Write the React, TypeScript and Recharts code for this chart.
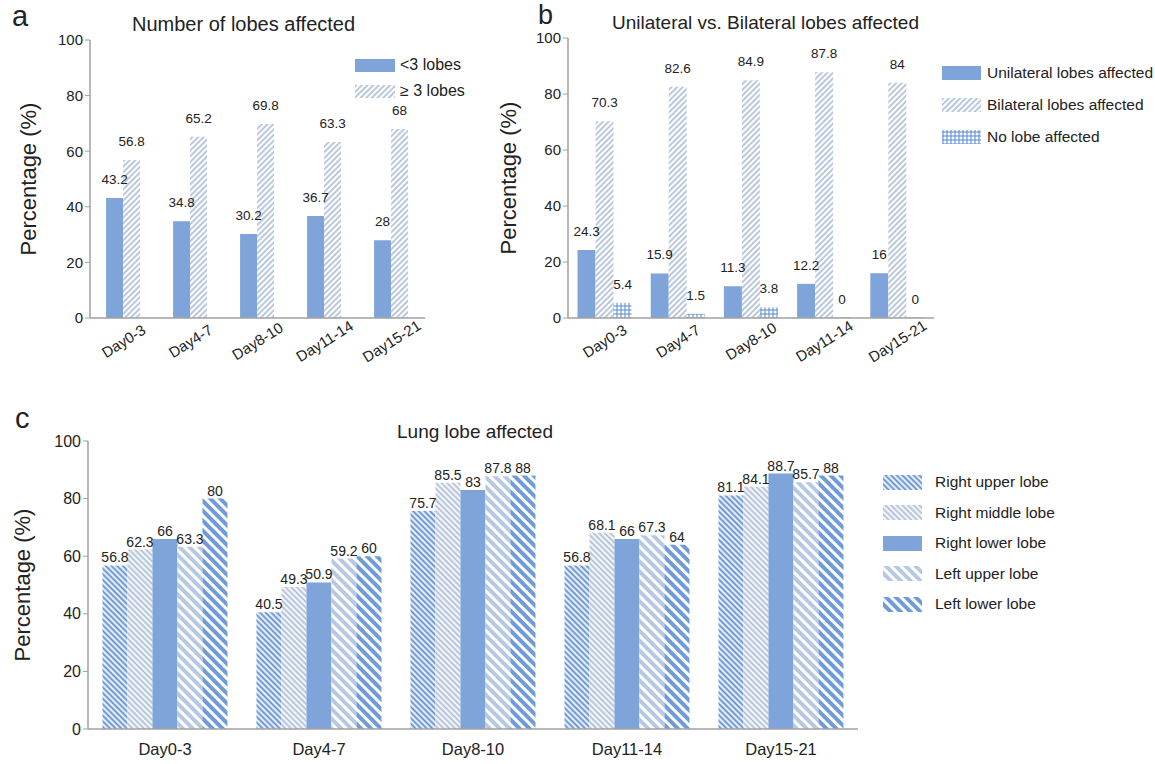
import { BarChart, Bar, XAxis, YAxis, LabelList } from 'recharts';

const days = ['Day0-3', 'Day4-7', 'Day8-10', 'Day11-14', 'Day15-21'];

// panel a
const lessThan3 = [43.2, 34.8, 30.2, 36.7, 28];
const atLeast3 = [56.8, 65.2, 69.8, 63.3, 68];

// panel b
const unilateral = [24.3, 15.9, 11.3, 12.2, 16];
const bilateral = [70.3, 82.6, 84.9, 87.8, 84];
const noLobe = [5.4, 1.5, 3.8, 0, 0];

// panel c
const rightUpper = [56.8, 40.5, 75.7, 56.8, 81.1];
const rightMiddle = [62.3, 49.3, 85.5, 68.1, 84.1];
const rightLower = [66, 50.9, 83, 66, 88.7];
const leftUpper = [63.3, 59.2, 87.8, 67.3, 85.7];
const leftLower = [80, 60, 88, 64, 88];

const yTicks = [0, 20, 40, 60, 80, 100];

const dataA = days.map((d, i) => ({ day: d, lt3: lessThan3[i], ge3: atLeast3[i] }));
const dataB = days.map((d, i) => ({ day: d, uni: unilateral[i], bi: bilateral[i], none: noLobe[i] }));
const dataC = days.map((d, i) => ({
  day: d,
  rul: rightUpper[i],
  rml: rightMiddle[i],
  rll: rightLower[i],
  lul: leftUpper[i],
  lll: leftLower[i],
}));

const FONT = 'Arial, "Liberation Sans", Helvetica, sans-serif';
const SOLID = '#7ea4da';
const AXIS = '#a0a0a0';
const TEXT = '#222';

const RotTick = (props: any) => {
  const { x, y, payload } = props;
  const cy = y + 15;
  return (
    <text
      x={x}
      y={cy}
      transform={`rotate(-32, ${x}, ${cy})`}
      textAnchor="middle"
      dominantBaseline="central"
      fontSize={15}
      fill={TEXT}
      fontFamily={FONT}
    >
      {payload.value}
    </text>
  );
};

function Patterns() {
  return (
    <defs>
      <pattern id="hatchLight" width="4" height="4" patternUnits="userSpaceOnUse" patternTransform="rotate(45)">
        <rect width="4" height="4" fill="#fff" />
        <line x1="1" y1="0" x2="1" y2="4" stroke="#a9bad6" strokeWidth="1.6" />
      </pattern>
      <pattern id="gridBlue" width="4" height="4" patternUnits="userSpaceOnUse">
        <rect width="4" height="4" fill="#fff" />
        <line x1="1" y1="0" x2="1" y2="4" stroke="#5f8fd4" strokeWidth="1.1" />
        <line x1="0" y1="2" x2="4" y2="2" stroke="#5f8fd4" strokeWidth="1.1" />
      </pattern>
      <pattern id="rulPat" width="4" height="4" patternUnits="userSpaceOnUse" patternTransform="rotate(-45)">
        <rect width="4" height="4" fill="#fff" />
        <line x1="1.5" y1="0" x2="1.5" y2="4" stroke="#5b8bd2" strokeWidth="2" />
      </pattern>
      <pattern id="rmlPat" width="4" height="4" patternUnits="userSpaceOnUse" patternTransform="rotate(-45)">
        <rect width="4" height="4" fill="#fff" />
        <line x1="1.5" y1="0" x2="1.5" y2="4" stroke="#adbdd6" strokeWidth="2" />
      </pattern>
      <pattern id="lulPat" width="7" height="7" patternUnits="userSpaceOnUse" patternTransform="rotate(-45)">
        <rect width="7" height="7" fill="#fff" />
        <rect x="0" y="0" width="4" height="7" fill="#b7c8e2" />
      </pattern>
      <pattern id="lllPat" width="7" height="7" patternUnits="userSpaceOnUse" patternTransform="rotate(-45)">
        <rect width="7" height="7" fill="#fff" />
        <rect x="0" y="0" width="4" height="7" fill="#6f9bd9" />
      </pattern>
    </defs>
  );
}

function Swatch({ fill, w = 38, h = 14 }: { fill: string; w?: number; h?: number }) {
  return (
    <svg width={w} height={h} style={{ display: 'block' }}>
      <rect width={w} height={h} fill={fill} />
    </svg>
  );
}

function LegendBox({
  items,
  left,
  top,
  gap,
  textGap,
  fontSize,
  w,
  h,
}: {
  items: { label: string; fill: string }[];
  left: number;
  top: number;
  gap: number;
  textGap: number;
  fontSize: number;
  w: number;
  h: number;
}) {
  return (
    <div style={{ position: 'absolute', left, top, fontFamily: FONT, fontSize, color: TEXT }}>
      {items.map((it) => (
        <div key={it.label} style={{ display: 'flex', alignItems: 'center', height: gap }}>
          <Swatch fill={it.fill} w={w} h={h} />
          <span style={{ marginLeft: textGap, whiteSpace: 'nowrap' }}>{it.label}</span>
        </div>
      ))}
    </div>
  );
}

const abs = (left: number, top: number, extra: any = {}) => ({
  position: 'absolute' as const,
  left,
  top,
  fontFamily: FONT,
  color: TEXT,
  whiteSpace: 'nowrap' as const,
  lineHeight: 1.15,
  ...extra,
});

const labelStyle = { fontSize: 13.5, fill: TEXT, fontFamily: FONT };
const labelStyleC = { fontSize: 14, fill: TEXT, fontFamily: FONT };
const yLabelStyle = { textAnchor: 'middle', fontSize: 22, fill: TEXT, fontFamily: FONT };

export default function App() {
  return (
    <div style={{ position: 'absolute', left: 0, top: 0, width: 1155, height: 764, background: '#fff', overflow: 'hidden' }}>
      {/* panel a */}
      <div style={abs(0, 0)}>
        <BarChart width={470} height={380} data={dataA} margin={{ top: 40, right: 45, bottom: 22, left: 10 }} barCategoryGap="24%" barGap={0}>
          <Patterns />
          <XAxis dataKey="day" axisLine={{ stroke: AXIS, strokeWidth: 1.5 }} tickLine={false} tick={<RotTick />} height={40} interval={0} />
          <YAxis
            domain={[0, 100]}
            ticks={yTicks}
            width={80}
            axisLine={{ stroke: AXIS, strokeWidth: 1.5 }}
            tickLine={{ stroke: AXIS }}
            tickSize={5}
            tick={{ fontSize: 15, fill: TEXT, fontFamily: FONT }}
            label={{ value: 'Percentage (%)', angle: -90, position: 'insideLeft', offset: 18, style: yLabelStyle }}
          />
          <Bar dataKey="lt3" fill={SOLID} isAnimationActive={false}>
            <LabelList dataKey="lt3" position="top" offset={14} style={labelStyle} />
          </Bar>
          <Bar dataKey="ge3" fill="url(#hatchLight)" isAnimationActive={false}>
            <LabelList dataKey="ge3" position="top" offset={14} style={labelStyle} />
          </Bar>
        </BarChart>
      </div>
      <div style={abs(12, 0, { fontSize: 29 })}>a</div>
      <div style={abs(132, 13, { fontSize: 20 })}>Number of lobes affected</div>
      <LegendBox
        left={355}
        top={52}
        gap={26}
        textGap={5}
        fontSize={16}
        w={40}
        h={13}
        items={[
          { label: '<3 lobes', fill: SOLID },
          { label: '\u2265 3 lobes', fill: 'url(#hatchLight)' },
        ]}
      />

      {/* panel b */}
      <div style={abs(480, 0)}>
        <BarChart width={470} height={380} data={dataB} margin={{ top: 38, right: 16, bottom: 22, left: 10 }} barCategoryGap="13%" barGap={0}>
          <XAxis dataKey="day" axisLine={{ stroke: AXIS, strokeWidth: 1.5 }} tickLine={false} tick={<RotTick />} height={40} interval={0} />
          <YAxis
            domain={[0, 100]}
            ticks={yTicks}
            width={78}
            axisLine={{ stroke: AXIS, strokeWidth: 1.5 }}
            tickLine={{ stroke: AXIS }}
            tickSize={5}
            tick={{ fontSize: 15, fill: TEXT, fontFamily: FONT }}
            label={{ value: 'Percentage (%)', angle: -90, position: 'insideLeft', offset: 18, style: yLabelStyle }}
          />
          <Bar dataKey="uni" fill={SOLID} isAnimationActive={false}>
            <LabelList dataKey="uni" position="top" offset={14} style={labelStyle} />
          </Bar>
          <Bar dataKey="bi" fill="url(#hatchLight)" isAnimationActive={false}>
            <LabelList dataKey="bi" position="top" offset={14} style={labelStyle} />
          </Bar>
          <Bar dataKey="none" fill="url(#gridBlue)" minPointSize={(v: number) => (v === 0 ? 0.5 : 0)} isAnimationActive={false}>
            <LabelList dataKey="none" position="top" offset={14} style={labelStyle} />
          </Bar>
        </BarChart>
      </div>
      <div style={abs(538, 0, { fontSize: 27 })}>b</div>
      <div style={abs(612, 12, { fontSize: 19 })}>Unilateral vs. Bilateral lobes affected</div>
      <LegendBox
        left={942}
        top={57}
        gap={32}
        textGap={6}
        fontSize={15.5}
        w={39}
        h={14}
        items={[
          { label: 'Unilateral lobes affected', fill: SOLID },
          { label: 'Bilateral lobes affected', fill: 'url(#hatchLight)' },
          { label: 'No lobe affected', fill: 'url(#gridBlue)' },
        ]}
      />

      {/* panel c */}
      <div style={abs(0, 400)}>
        <BarChart width={880} height={364} data={dataC} margin={{ top: 41, right: 22, bottom: 5, left: 10 }} barCategoryGap="9.4%" barGap={0}>
          <XAxis
            dataKey="day"
            axisLine={{ stroke: AXIS, strokeWidth: 1.5 }}
            tickLine={false}
            tickMargin={8}
            tick={{ fontSize: 16.5, fill: TEXT, fontFamily: FONT }}
            height={30}
            interval={0}
          />
          <YAxis
            domain={[0, 100]}
            ticks={yTicks}
            width={78}
            axisLine={{ stroke: AXIS, strokeWidth: 1.5 }}
            tickLine={{ stroke: AXIS }}
            tickSize={5}
            tick={{ fontSize: 16, fill: TEXT, fontFamily: FONT }}
            label={{ value: 'Percentage (%)', angle: -90, position: 'insideLeft', offset: 12, style: yLabelStyle }}
          />
          <Bar dataKey="rul" fill="url(#rulPat)" isAnimationActive={false}>
            <LabelList dataKey="rul" position="top" offset={3} style={labelStyleC} />
          </Bar>
          <Bar dataKey="rml" fill="url(#rmlPat)" isAnimationActive={false}>
            <LabelList dataKey="rml" position="top" offset={3} style={labelStyleC} />
          </Bar>
          <Bar dataKey="rll" fill={SOLID} isAnimationActive={false}>
            <LabelList dataKey="rll" position="top" offset={3} style={labelStyleC} />
          </Bar>
          <Bar dataKey="lul" fill="url(#lulPat)" isAnimationActive={false}>
            <LabelList dataKey="lul" position="top" offset={3} style={labelStyleC} />
          </Bar>
          <Bar dataKey="lll" fill="url(#lllPat)" isAnimationActive={false}>
            <LabelList dataKey="lll" position="top" offset={3} style={labelStyleC} />
          </Bar>
        </BarChart>
      </div>
      <div style={abs(15, 402, { fontSize: 29 })}>c</div>
      <div style={abs(397, 421, { fontSize: 19 })}>Lung lobe affected</div>
      <LegendBox
        left={883}
        top={467}
        gap={30.5}
        textGap={13}
        fontSize={15.5}
        w={39}
        h={15}
        items={[
          { label: 'Right upper lobe', fill: 'url(#rulPat)' },
          { label: 'Right middle lobe', fill: 'url(#rmlPat)' },
          { label: 'Right lower lobe', fill: SOLID },
          { label: 'Left upper lobe', fill: 'url(#lulPat)' },
          { label: 'Left lower lobe', fill: 'url(#lllPat)' },
        ]}
      />
    </div>
  );
}
